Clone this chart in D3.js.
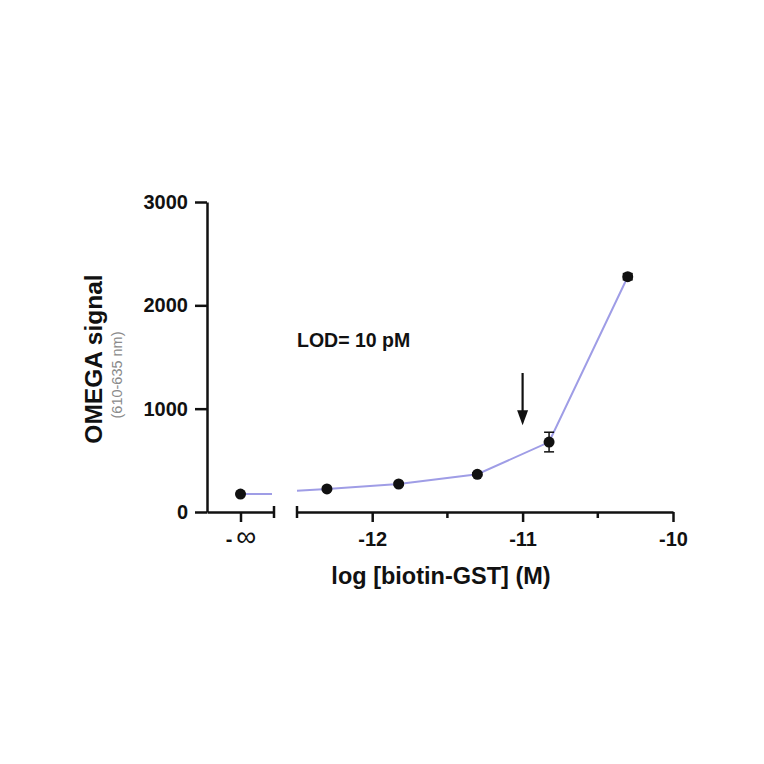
<!DOCTYPE html>
<html>
<head>
<meta charset="utf-8">
<script src="https://cdn.jsdelivr.net/npm/d3@7"></script>
<style>
  body { margin: 0; background: #fff; }
  text { font-family: "Liberation Sans", Arial, sans-serif; }
</style>
</head>
<body>
<div id="chart"></div>
<script>
// data
var zeroLabel = ["-∞"];
var zeroValue = [174];
var concLogs = [-12.301, -11.824, -11.301, -10.824, -10.301];   // 0.5, 1.5, 5, 15, 50 pM
var signal = [223, 271, 365, 677, 2277];
var signalErr = [12, 12, 15, 95, 30];
var lineLogs = [-12.5, -12.301, -11.824, -11.301, -10.824, -10.301];
var lineVals = [206, 223, 271, 365, 677, 2277];
var xMajor = [-12, -11, -10];
var xMinor = [-11.5, -10.5];
var yTicks = [0, 1000, 2000, 3000];
var lodLog = -11;
var arrowVals = [1345, 840];

var w = 764, h = 764;
var svg = d3.select("#chart").append("svg").attr("width", w).attr("height", h);

var y = d3.scaleLinear().domain([0, 3000]).range([512, 202]);
var xZero = d3.scalePoint().domain(zeroLabel).range([207, 274]).padding(0.5);
var x = d3.scaleLinear().domain([-12.5, -10]).range([297, 673]);

var ink = "#111";
var lineCol = "#9f9de6";

// y axis
var yAxis = svg.append("g").attr("transform", "translate(207,0)")
  .call(d3.axisLeft(y).tickValues(yTicks).tickFormat(function(d) { return String(d); })
    .tickSize(12).tickSizeOuter(0).tickPadding(7));

// left (zero) x axis piece
var xAxis0 = svg.append("g").attr("transform", "translate(0,512)")
  .call(d3.axisBottom(xZero).tickSize(10).tickSizeOuter(0).tickPadding(10));

// right x axis piece
var xAxis1 = svg.append("g").attr("transform", "translate(0,512)")
  .call(d3.axisBottom(x).tickValues(xMajor).tickFormat(function(d) { return String(d); })
    .tickSize(10).tickSizeOuter(0).tickPadding(10));

svg.append("g").attr("transform", "translate(0,512)")
  .selectAll("line").data(xMinor).enter().append("line")
  .attr("x1", function(d) { return x(d); }).attr("x2", function(d) { return x(d); })
  .attr("y1", 0).attr("y2", 6);

// break caps
var caps = [xZero.range()[1], x.range()[0]];
svg.append("g").selectAll("line").data(caps).enter().append("line")
  .attr("x1", function(d) { return d; }).attr("x2", function(d) { return d; })
  .attr("y1", 506).attr("y2", 518);

[yAxis, xAxis0, xAxis1].forEach(function(g) {
  g.select(".domain").attr("stroke", ink).attr("stroke-width", 2.5);
  g.selectAll(".tick line").attr("stroke", ink).attr("stroke-width", 2.5);
  g.selectAll(".tick text").attr("fill", ink)
    .style("font-size", "20px").style("font-weight", "bold")
    .style("font-family", "'Liberation Sans', Arial, sans-serif");
});
svg.selectAll("g > line").attr("stroke", ink).attr("stroke-width", 2.5);

// bigger infinity sign, like the original
xAxis0.selectAll(".tick text").each(function(d) {
  var t = d3.select(this).text("");
  t.append("tspan").text(d.charAt(0));
  t.append("tspan").attr("dx", 4).style("font-size", "28px").style("font-weight", "normal").text(d.slice(1));
});

// lines
svg.append("line")
  .attr("x1", xZero(zeroLabel[0])).attr("x2", xZero.range()[1] - 2)
  .attr("y1", y(zeroValue[0])).attr("y2", y(zeroValue[0]))
  .attr("stroke", lineCol).attr("stroke-width", 2);

var lineData = lineLogs.map(function(d, i) { return [d, lineVals[i]]; });
svg.append("path").datum(lineData)
  .attr("fill", "none").attr("stroke", lineCol).attr("stroke-width", 2)
  .attr("d", d3.line()
    .x(function(d) { return x(d[0]); })
    .y(function(d) { return y(d[1]); }));

// error bars
var pts = concLogs.map(function(d, i) { return { x: d, v: signal[i], e: signalErr[i] }; });
var eb = svg.append("g").attr("stroke", ink).attr("stroke-width", 1.5);
pts.forEach(function(p) {
  var cx = x(p.x);
  eb.append("line").attr("x1", cx).attr("x2", cx).attr("y1", y(p.v + p.e)).attr("y2", y(p.v - p.e));
  eb.append("line").attr("x1", cx - 5).attr("x2", cx + 5).attr("y1", y(p.v + p.e)).attr("y2", y(p.v + p.e));
  eb.append("line").attr("x1", cx - 5).attr("x2", cx + 5).attr("y1", y(p.v - p.e)).attr("y2", y(p.v - p.e));
});

// points
svg.append("circle").attr("cx", xZero(zeroLabel[0])).attr("cy", y(zeroValue[0])).attr("r", 5.5).attr("fill", ink);
svg.selectAll("circle.pt").data(pts).enter().append("circle").attr("class", "pt")
  .attr("cx", function(d) { return x(d.x); })
  .attr("cy", function(d) { return y(d.v); })
  .attr("r", 5.5).attr("fill", ink);

// LOD arrow
var ax = x(lodLog);
svg.append("line").attr("x1", ax).attr("x2", ax)
  .attr("y1", y(arrowVals[0])).attr("y2", y(arrowVals[1]) - 12)
  .attr("stroke", ink).attr("stroke-width", 2.2);
svg.append("path")
  .attr("d", "M" + (ax - 5.5) + "," + (y(arrowVals[1]) - 15) + "L" + (ax + 5.5) + "," + (y(arrowVals[1]) - 15) + "L" + ax + "," + y(arrowVals[1]) + "Z")
  .attr("fill", ink);

svg.append("text").attr("x", 297).attr("y", 347)
  .style("font-size", "19.5px").style("font-weight", "bold").attr("fill", ink)
  .text("LOD= 10 pM");

// titles
svg.append("text").attr("x", 441).attr("y", 584).attr("text-anchor", "middle")
  .style("font-size", "23.5px").style("font-weight", "bold").attr("fill", ink)
  .text("log [biotin-GST] (M)");

svg.append("text").attr("transform", "translate(102,359) rotate(-90)").attr("text-anchor", "middle")
  .style("font-size", "24.5px").style("font-weight", "bold").attr("fill", ink)
  .text("OMEGA signal");

svg.append("text").attr("transform", "translate(122,375) rotate(-90)").attr("text-anchor", "middle")
  .style("font-size", "14.5px").attr("fill", "#8a8a8a")
  .text("(610-635 nm)");
</script>
</body>
</html>
